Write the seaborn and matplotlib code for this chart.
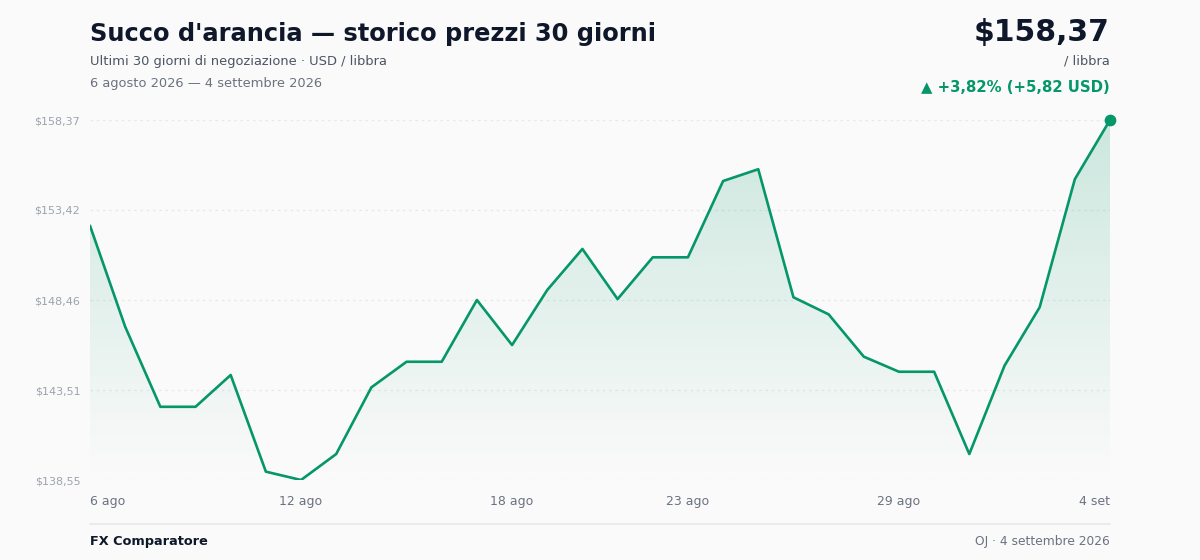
import numpy as np
import pandas as pd
import matplotlib
matplotlib.use("Agg")
import matplotlib.pyplot as plt
import matplotlib.dates as mdates
from matplotlib.lines import Line2D
import seaborn as sns

# prezzi giornalieri (USD / libbra), 6 ago - 4 set 2026
start_day = "2026-08-06"
prices = [152.55, 146.99, 142.58, 142.58, 144.33, 139.01, 138.55, 139.98, 143.65, 145.06,
          145.06, 148.46, 145.98, 149.01, 151.27, 148.51, 150.81, 150.81, 155.01, 155.66,
          148.61, 147.67, 145.34, 144.51, 144.51, 139.98, 144.84, 148.06, 155.11, 158.37]
tick_idx = [0, 6, 12, 17, 23, 29]
tick_labels = ["6 ago", "12 ago", "18 ago", "23 ago", "29 ago", "4 set"]
ytick_labels = ["$138,55", "$143,51", "$148,46", "$153,42", "$158,37"]

title = "Succo d'arancia — storico prezzi 30 giorni"
subtitle = "Ultimi 30 giorni di negoziazione · USD / libbra"
date_range_txt = "6 agosto 2026 — 4 settembre 2026"
last_txt = "$158,37"
change_txt = "▲ +3,82% (+5,82 USD)"

GREEN = "#059669"
BG = "#fafafa"

dates = pd.date_range(start_day, periods=len(prices), freq="D")
df = pd.DataFrame({"data": dates, "prezzo": prices})

sns.set_theme(style="white")
plt.rcParams["font.family"] = ["DejaVu Sans"]

fig = plt.figure(figsize=(12, 5.6), dpi=100, facecolor=BG)
ax = fig.add_axes([90 / 1200, 1 - 480 / 560, 1020 / 1200, 360 / 560])
ax.set_facecolor(BG)

lo, hi = min(prices), max(prices)
x0, x1 = mdates.date2num(dates[0]), mdates.date2num(dates[-1])

# gradient fill under the line
grad = np.zeros((256, 1, 4))
grad[..., 0], grad[..., 1], grad[..., 2] = 5 / 255, 150 / 255, 105 / 255
grad[:, 0, 3] = np.linspace(0.19, 0.0, 256)
poly = ax.fill_between(df["data"], df["prezzo"], lo, color="none", lw=0)
img = ax.imshow(grad, aspect="auto", extent=[x0, x1, lo, hi], origin="upper", zorder=1)
img.set_clip_path(poly.get_paths()[0], transform=ax.transData)

sns.lineplot(data=df, x="data", y="prezzo", ax=ax, color=GREEN, lw=1.9, zorder=3)
ax.scatter([dates[-1]], [prices[-1]], s=55, color=GREEN, zorder=4, clip_on=False)
ax.set_xlim(x0, x1)
ax.set_ylim(lo, hi)

yticks = np.linspace(lo, hi, 5)
ax.set_yticks(yticks)
ax.set_yticklabels(ytick_labels, fontsize=8, color="#9ca3af")
ax.grid(axis="y", color="#e6e8eb", lw=0.9, ls=(0, (2, 3)))
ax.set_axisbelow(True)

ax.set_xticks([dates[i] for i in tick_idx])
ax.set_xticklabels(tick_labels, fontsize=9, color="#6b7280")
labs = ax.get_xticklabels()
labs[0].set_ha("left")
labs[-1].set_ha("right")
ax.tick_params(axis="x", length=0, pad=11)
ax.tick_params(axis="y", length=0, pad=7)
ax.set_xlabel("")
ax.set_ylabel("")
for s in ax.spines.values():
    s.set_visible(False)

# header
fig.text(90 / 1200, 1 - 34 / 560, title, fontsize=17.4, fontweight="bold", color="#0f172a", va="center")
fig.text(90 / 1200, 1 - 61 / 560, subtitle, fontsize=9.35, color="#4b5563", va="center")
fig.text(90 / 1200, 1 - 83 / 560, date_range_txt, fontsize=9.35, color="#6b7280", va="center")
fig.text(1110 / 1200, 1 - 33 / 560, last_txt, fontsize=21.5, fontweight="bold", color="#0f172a", va="center", ha="right")
fig.text(1110 / 1200, 1 - 61 / 560, "/ libbra", fontsize=9.35, color="#4b5563", va="center", ha="right")
fig.text(1110 / 1200, 1 - 87 / 560, change_txt, fontsize=10.7, fontweight="bold", color=GREEN, va="center", ha="right")

# footer
fig.add_artist(Line2D([90 / 1200, 1110 / 1200], [1 - 524 / 560] * 2, color="#e5e7eb", lw=1.2))
fig.text(90 / 1200, 1 - 541 / 560, "FX Comparatore", fontsize=9.3, fontweight="bold", color="#0f172a", va="center")
fig.text(1110 / 1200, 1 - 541 / 560, "OJ · 4 settembre 2026", fontsize=8.8, color="#6b7280", va="center", ha="right")

fig.savefig("out.png", dpi=100, facecolor=BG)
